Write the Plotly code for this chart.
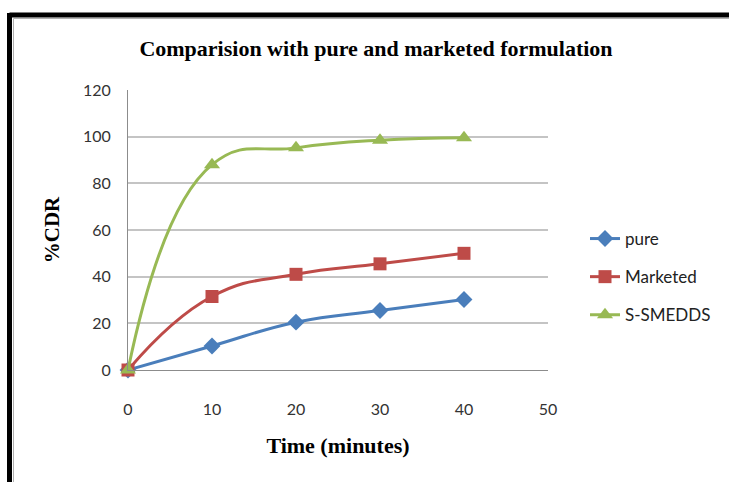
import plotly.graph_objects as go

time_min = [0, 10, 20, 30, 40]
pure = [0, 10.3, 20.5, 25.5, 30.2]
marketed = [0, 31.5, 41, 45.5, 50]
s_smedds = [0, 88, 95.2, 98.5, 99.5]

x_ticks = [0, 10, 20, 30, 40, 50]
y_ticks = [0, 20, 40, 60, 80, 100, 120]

series = [
    ("pure", pure, "#4A7EBB", "diamond", 13),
    ("Marketed", marketed, "#BE4B48", "square", 13),
    ("S-SMEDDS", s_smedds, "#98B954", "triangle-up", 14),
]

fig = go.Figure()
for i, (name, vals, color, sym, size) in enumerate(series):
    fig.add_trace(go.Scatter(
        x=time_min, y=vals, name=name, mode="lines+markers",
        line=dict(color=color, width=3, shape="spline", smoothing=1.3),
        marker=dict(symbol=sym, size=size, color=color),
        cliponaxis=False, legendgroup=name,
    ))

# plot area: x 128..548, y 90..370
L, R, T, B = 128, 548, 90, 370
W, H = R - L, B - T

def px(p):
    return (p - L) / W

def py(q):
    return (B - q) / H

shapes = [
    dict(type="line", xref="paper", yref="paper", x0=px(9.5), x1=px(740), y0=py(15), y1=py(15),
         line=dict(color="black", width=5)),
    dict(type="line", xref="paper", yref="paper", x0=px(9.5), x1=px(9.5), y0=py(13), y1=py(495),
         line=dict(color="black", width=5)),
    dict(type="line", xref="paper", yref="paper", x0=px(13.5), x1=px(740), y0=py(18.5), y1=py(18.5),
         line=dict(color="#B0B0B0", width=1)),
    dict(type="line", xref="paper", yref="paper", x0=px(13.5), x1=px(13.5), y0=py(18.5), y1=py(495),
         line=dict(color="#B0B0B0", width=1)),
]

fig.update_layout(
    width=729, height=482,
    margin=dict(l=L, r=729 - R, t=T, b=482 - B),
    paper_bgcolor="white", plot_bgcolor="white",
    title=dict(text="<b>Comparision with pure and marketed formulation</b>",
               x=376 / 729, xanchor="center", y=1 - 48 / 482, yanchor="middle",
               font=dict(family="Liberation Serif", size=22, color="black")),
    xaxis=dict(range=[0, 50], tickvals=x_ticks, showgrid=False, zeroline=False,
               showline=True, linecolor="#8C8C8C", linewidth=1,
               ticks="outside", ticklen=25, tickcolor="rgba(0,0,0,0)",
               tickfont=dict(family="Lato", size=16, color="#333333"),
               title=dict(text="<b>Time (minutes)</b>", standoff=20,
                          font=dict(family="Liberation Serif", size=22, color="black"))),
    yaxis=dict(range=[0, 120], tickvals=y_ticks, showgrid=True, gridcolor="#C4C4C4", gridwidth=1.5,
               zeroline=False, showline=True, linecolor="#8C8C8C", linewidth=1,
               ticks="outside", ticklen=13, tickcolor="rgba(0,0,0,0)",
               tickfont=dict(family="Lato", size=16, color="#333333"),
               title=dict(text="<b>%CDR</b>", standoff=17,
                          font=dict(family="Liberation Serif", size=21, color="black"))),
    legend=dict(x=px(585), xanchor="left", y=py(221), yanchor="top",
                font=dict(family="Lato", size=17, color="#222222"),
                tracegroupgap=13, bgcolor="rgba(0,0,0,0)"),
    shapes=shapes,
    showlegend=True,
)

fig.write_html("out.html")
